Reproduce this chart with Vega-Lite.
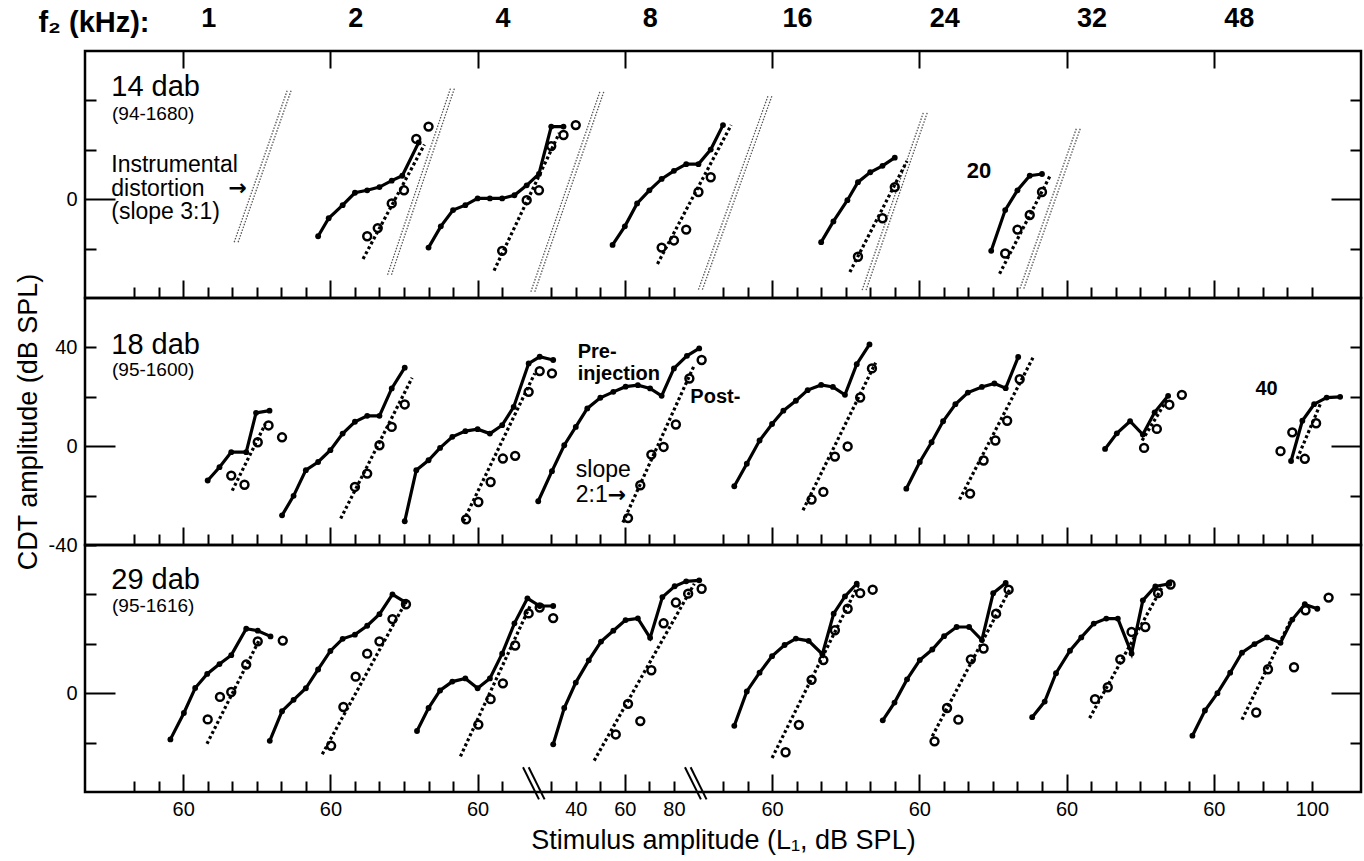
{
  "$schema": "https://vega.github.io/schema/vega-lite/v6.json",
  "background": "white",
  "padding": {"left": 12, "top": 2, "right": 4, "bottom": 4},
  "config": {
    "font": "Liberation Sans",
    "view": {"stroke": "black", "strokeWidth": 2.5},
    "axis": {"domain": false, "grid": false, "tickColor": "black", "tickWidth": 2, "labelColor": "black", "labelFont": "Liberation Sans", "labelFontSize": 20, "labelOverlap": false, "labelFlush": false, "titleFont": "Liberation Sans", "titleFontWeight": "normal", "titleColor": "black", "titleFontSize": 27}
  },
  "datasets": {
    "instr": [
      {"g": "1a", "x": 60.8, "y": -17.4}, {"g": "1a", "x": 82.4, "y": 44},
      {"g": "1b", "x": 62.4, "y": -17.4}, {"g": "1b", "x": 84.0, "y": 44},
      {"g": "2a", "x": 123.3, "y": -30.6}, {"g": "2a", "x": 149.0, "y": 45},
      {"g": "2b", "x": 124.9, "y": -30.6}, {"g": "2b", "x": 150.6, "y": 45},
      {"g": "4a", "x": 181.7, "y": -37.5}, {"g": "4a", "x": 210.0, "y": 44},
      {"g": "4b", "x": 183.3, "y": -37.5}, {"g": "4b", "x": 211.6, "y": 44},
      {"g": "8a", "x": 250.0, "y": -36.6}, {"g": "8a", "x": 278.3, "y": 41.7},
      {"g": "8b", "x": 251.6, "y": -36.6}, {"g": "8b", "x": 279.9, "y": 41.7},
      {"g": "16a", "x": 316.7, "y": -36.8}, {"g": "16a", "x": 341.7, "y": 35.2},
      {"g": "16b", "x": 318.3, "y": -36.8}, {"g": "16b", "x": 343.3, "y": 35.2},
      {"g": "24a", "x": 381.0, "y": -36.2}, {"g": "24a", "x": 404.0, "y": 28.6},
      {"g": "24b", "x": 382.6, "y": -36.2}, {"g": "24b", "x": 405.6, "y": 28.6}
    ],
    "pre": [
      {"p": 1, "g": "2", "x": 95, "y": -15}, {"p": 1, "g": "2", "x": 99.3, "y": -7.7}, {"p": 1, "g": "2", "x": 105, "y": -2.4}, {"p": 1, "g": "2", "x": 110, "y": 2.6}, {"p": 1, "g": "2", "x": 115, "y": 3.6}, {"p": 1, "g": "2", "x": 120, "y": 4.9}, {"p": 1, "g": "2", "x": 125, "y": 7.5}, {"p": 1, "g": "2", "x": 129.3, "y": 9.5}, {"p": 1, "g": "2", "x": 136, "y": 23},
      {"p": 1, "g": "4", "x": 140, "y": -19.6}, {"p": 1, "g": "4", "x": 145, "y": -11}, {"p": 1, "g": "4", "x": 150, "y": -4.4}, {"p": 1, "g": "4", "x": 155, "y": -2.4}, {"p": 1, "g": "4", "x": 160, "y": 0.3}, {"p": 1, "g": "4", "x": 165, "y": 0.3}, {"p": 1, "g": "4", "x": 170, "y": 0.3}, {"p": 1, "g": "4", "x": 175, "y": 1.6}, {"p": 1, "g": "4", "x": 180, "y": 5.6}, {"p": 1, "g": "4", "x": 185, "y": 10.2}, {"p": 1, "g": "4", "x": 190, "y": 29.4}, {"p": 1, "g": "4", "x": 195, "y": 29.4},
      {"p": 1, "g": "8", "x": 215, "y": -18.5}, {"p": 1, "g": "8", "x": 220, "y": -11}, {"p": 1, "g": "8", "x": 225, "y": -1.7}, {"p": 1, "g": "8", "x": 230, "y": 3.6}, {"p": 1, "g": "8", "x": 235, "y": 8.2}, {"p": 1, "g": "8", "x": 240, "y": 11.5}, {"p": 1, "g": "8", "x": 245, "y": 14.2}, {"p": 1, "g": "8", "x": 250, "y": 14.2}, {"p": 1, "g": "8", "x": 255, "y": 20.1}, {"p": 1, "g": "8", "x": 260, "y": 30},
      {"p": 1, "g": "16", "x": 300, "y": -17.4}, {"p": 1, "g": "16", "x": 305, "y": -9}, {"p": 1, "g": "16", "x": 310.7, "y": -0.4}, {"p": 1, "g": "16", "x": 315, "y": 6.9}, {"p": 1, "g": "16", "x": 320, "y": 10.9}, {"p": 1, "g": "16", "x": 325, "y": 13.5}, {"p": 1, "g": "16", "x": 330, "y": 16.8},
      {"p": 1, "g": "24", "x": 369.3, "y": -20.9}, {"p": 1, "g": "24", "x": 375, "y": -4.4}, {"p": 1, "g": "24", "x": 380, "y": 3.6}, {"p": 1, "g": "24", "x": 385, "y": 9.5}, {"p": 1, "g": "24", "x": 390, "y": 10.2},

      {"p": 2, "g": "1", "x": 50, "y": -13.9}, {"p": 2, "g": "1", "x": 54.8, "y": -8.5}, {"p": 2, "g": "1", "x": 59.6, "y": -2.4}, {"p": 2, "g": "1", "x": 65.7, "y": -2.4}, {"p": 2, "g": "1", "x": 69.7, "y": 13.5}, {"p": 2, "g": "1", "x": 75.2, "y": 14.4},
      {"p": 2, "g": "2", "x": 80.3, "y": -28}, {"p": 2, "g": "2", "x": 85, "y": -20.1}, {"p": 2, "g": "2", "x": 90, "y": -9.7}, {"p": 2, "g": "2", "x": 95, "y": -6.4}, {"p": 2, "g": "2", "x": 100, "y": -1.6}, {"p": 2, "g": "2", "x": 105, "y": 5.1}, {"p": 2, "g": "2", "x": 110, "y": 9.9}, {"p": 2, "g": "2", "x": 115, "y": 12.3}, {"p": 2, "g": "2", "x": 120, "y": 12.3}, {"p": 2, "g": "2", "x": 125, "y": 23.4}, {"p": 2, "g": "2", "x": 130.3, "y": 31.8},
      {"p": 2, "g": "4", "x": 130.3, "y": -30.4}, {"p": 2, "g": "4", "x": 135, "y": -9.7}, {"p": 2, "g": "4", "x": 140, "y": -5.7}, {"p": 2, "g": "4", "x": 144.7, "y": -0.7}, {"p": 2, "g": "4", "x": 149.7, "y": 3.8}, {"p": 2, "g": "4", "x": 155, "y": 6.1}, {"p": 2, "g": "4", "x": 160, "y": 6.9}, {"p": 2, "g": "4", "x": 165, "y": 5.1}, {"p": 2, "g": "4", "x": 170, "y": 8.5}, {"p": 2, "g": "4", "x": 174.7, "y": 15.9}, {"p": 2, "g": "4", "x": 180.8, "y": 33.5}, {"p": 2, "g": "4", "x": 185.3, "y": 36.2}, {"p": 2, "g": "4", "x": 190.8, "y": 34.9},
      {"p": 2, "g": "8", "x": 184.7, "y": -22.3}, {"p": 2, "g": "8", "x": 190.3, "y": -10.1}, {"p": 2, "g": "8", "x": 195.3, "y": 0.4}, {"p": 2, "g": "8", "x": 200, "y": 7.8}, {"p": 2, "g": "8", "x": 204.7, "y": 15.3}, {"p": 2, "g": "8", "x": 210, "y": 19.6}, {"p": 2, "g": "8", "x": 215.3, "y": 22}, {"p": 2, "g": "8", "x": 220.3, "y": 24.1}, {"p": 2, "g": "8", "x": 225.3, "y": 24.7}, {"p": 2, "g": "8", "x": 230.3, "y": 23.4}, {"p": 2, "g": "8", "x": 235, "y": 20.4}, {"p": 2, "g": "8", "x": 240, "y": 31.5}, {"p": 2, "g": "8", "x": 245.3, "y": 36.6}, {"p": 2, "g": "8", "x": 250.3, "y": 39.6},
      {"p": 2, "g": "16", "x": 264.6, "y": -16.2}, {"p": 2, "g": "16", "x": 269.7, "y": -7.1}, {"p": 2, "g": "16", "x": 274.9, "y": 2.3}, {"p": 2, "g": "16", "x": 280, "y": 9}, {"p": 2, "g": "16", "x": 284.6, "y": 14.4}, {"p": 2, "g": "16", "x": 289.7, "y": 18.4}, {"p": 2, "g": "16", "x": 294.5, "y": 22.7}, {"p": 2, "g": "16", "x": 300, "y": 24.8}, {"p": 2, "g": "16", "x": 304.8, "y": 24}, {"p": 2, "g": "16", "x": 309.7, "y": 20.8}, {"p": 2, "g": "16", "x": 314.5, "y": 33.2}, {"p": 2, "g": "16", "x": 319.7, "y": 41.2},
      {"p": 2, "g": "24", "x": 334.7, "y": -17.2}, {"p": 2, "g": "24", "x": 340.2, "y": -6.4}, {"p": 2, "g": "24", "x": 345, "y": 1.6}, {"p": 2, "g": "24", "x": 349.7, "y": 10.1}, {"p": 2, "g": "24", "x": 354.7, "y": 17}, {"p": 2, "g": "24", "x": 359.8, "y": 21.7}, {"p": 2, "g": "24", "x": 365.5, "y": 24}, {"p": 2, "g": "24", "x": 370.6, "y": 25.4}, {"p": 2, "g": "24", "x": 375.2, "y": 23.5}, {"p": 2, "g": "24", "x": 380.3, "y": 36.1},
      {"p": 2, "g": "32", "x": 415.7, "y": -1.1}, {"p": 2, "g": "32", "x": 420.5, "y": 5.2}, {"p": 2, "g": "32", "x": 425.9, "y": 10.1}, {"p": 2, "g": "32", "x": 431.1, "y": 4.7}, {"p": 2, "g": "32", "x": 435.9, "y": 13.7}, {"p": 2, "g": "32", "x": 441.4, "y": 20.4},
      {"p": 2, "g": "48", "x": 491.5, "y": -6}, {"p": 2, "g": "48", "x": 496.1, "y": 10.3}, {"p": 2, "g": "48", "x": 500.9, "y": 17}, {"p": 2, "g": "48", "x": 506, "y": 19.7}, {"p": 2, "g": "48", "x": 511.5, "y": 20},

      {"p": 3, "g": "1", "x": 34.8, "y": -18.7}, {"p": 3, "g": "1", "x": 40.3, "y": -8}, {"p": 3, "g": "1", "x": 44.9, "y": 2.1}, {"p": 3, "g": "1", "x": 49.8, "y": 7.8}, {"p": 3, "g": "1", "x": 54.8, "y": 11.8}, {"p": 3, "g": "1", "x": 59.6, "y": 15.4}, {"p": 3, "g": "1", "x": 65.7, "y": 26.1}, {"p": 3, "g": "1", "x": 70.4, "y": 25.3}, {"p": 3, "g": "1", "x": 75.6, "y": 23},
      {"p": 3, "g": "2", "x": 75.3, "y": -19.3}, {"p": 3, "g": "2", "x": 80.3, "y": -7.3}, {"p": 3, "g": "2", "x": 85, "y": -2.7}, {"p": 3, "g": "2", "x": 90, "y": 2}, {"p": 3, "g": "2", "x": 95, "y": 9.6}, {"p": 3, "g": "2", "x": 100, "y": 17.1}, {"p": 3, "g": "2", "x": 105, "y": 22}, {"p": 3, "g": "2", "x": 110, "y": 23.7}, {"p": 3, "g": "2", "x": 115, "y": 27.3}, {"p": 3, "g": "2", "x": 120, "y": 32}, {"p": 3, "g": "2", "x": 125.3, "y": 40}, {"p": 3, "g": "2", "x": 130.3, "y": 37},
      {"p": 3, "g": "4", "x": 135.3, "y": -15.3}, {"p": 3, "g": "4", "x": 140, "y": -6}, {"p": 3, "g": "4", "x": 144.7, "y": 1.1}, {"p": 3, "g": "4", "x": 149.7, "y": 4.7}, {"p": 3, "g": "4", "x": 155, "y": 6}, {"p": 3, "g": "4", "x": 160, "y": 2}, {"p": 3, "g": "4", "x": 165, "y": 6}, {"p": 3, "g": "4", "x": 170, "y": 16}, {"p": 3, "g": "4", "x": 175, "y": 28.3}, {"p": 3, "g": "4", "x": 180.3, "y": 38.4}, {"p": 3, "g": "4", "x": 185.3, "y": 35.3}, {"p": 3, "g": "4", "x": 190.8, "y": 35.3},
      {"p": 3, "g": "8", "x": 190.8, "y": -20.7}, {"p": 3, "g": "8", "x": 195.3, "y": -6}, {"p": 3, "g": "8", "x": 200, "y": 4.3}, {"p": 3, "g": "8", "x": 205.3, "y": 13.3}, {"p": 3, "g": "8", "x": 210.3, "y": 20.9}, {"p": 3, "g": "8", "x": 215.3, "y": 25.3}, {"p": 3, "g": "8", "x": 220.3, "y": 29.6}, {"p": 3, "g": "8", "x": 225.3, "y": 30.3}, {"p": 3, "g": "8", "x": 230.3, "y": 22.4}, {"p": 3, "g": "8", "x": 235.3, "y": 38.9}, {"p": 3, "g": "8", "x": 240.3, "y": 43.3}, {"p": 3, "g": "8", "x": 245, "y": 45.3}, {"p": 3, "g": "8", "x": 250.3, "y": 45.7},
      {"p": 3, "g": "16", "x": 264.6, "y": -13.2}, {"p": 3, "g": "16", "x": 269.7, "y": 0.7}, {"p": 3, "g": "16", "x": 274.9, "y": 8.3}, {"p": 3, "g": "16", "x": 280, "y": 15}, {"p": 3, "g": "16", "x": 285.1, "y": 19.5}, {"p": 3, "g": "16", "x": 289.7, "y": 22.1}, {"p": 3, "g": "16", "x": 294.9, "y": 21.2}, {"p": 3, "g": "16", "x": 300.5, "y": 15.8}, {"p": 3, "g": "16", "x": 305.1, "y": 32.2}, {"p": 3, "g": "16", "x": 309.7, "y": 39.2}, {"p": 3, "g": "16", "x": 314.5, "y": 44.3},
      {"p": 3, "g": "24", "x": 325.1, "y": -11}, {"p": 3, "g": "24", "x": 329.9, "y": -3.8}, {"p": 3, "g": "24", "x": 335, "y": 5.6}, {"p": 3, "g": "24", "x": 340.2, "y": 13.4}, {"p": 3, "g": "24", "x": 345.3, "y": 17.7}, {"p": 3, "g": "24", "x": 350.1, "y": 23.1}, {"p": 3, "g": "24", "x": 355.2, "y": 26.8}, {"p": 3, "g": "24", "x": 360.3, "y": 26.8}, {"p": 3, "g": "24", "x": 365.5, "y": 21.5}, {"p": 3, "g": "24", "x": 370.1, "y": 40.5}, {"p": 3, "g": "24", "x": 375.2, "y": 44.6},
      {"p": 3, "g": "32", "x": 386, "y": -9.7}, {"p": 3, "g": "32", "x": 391.1, "y": -3.4}, {"p": 3, "g": "32", "x": 395.7, "y": 8.1}, {"p": 3, "g": "32", "x": 401.4, "y": 17.2}, {"p": 3, "g": "32", "x": 406, "y": 22.6}, {"p": 3, "g": "32", "x": 411.1, "y": 28.2}, {"p": 3, "g": "32", "x": 416.2, "y": 30.2}, {"p": 3, "g": "32", "x": 420.9, "y": 30.2}, {"p": 3, "g": "32", "x": 426.5, "y": 16.1}, {"p": 3, "g": "32", "x": 431.1, "y": 37.6}, {"p": 3, "g": "32", "x": 436.2, "y": 43.2}, {"p": 3, "g": "32", "x": 441.9, "y": 44.3},
      {"p": 3, "g": "48", "x": 451.3, "y": -17.2}, {"p": 3, "g": "48", "x": 456.4, "y": -7}, {"p": 3, "g": "48", "x": 461.5, "y": 0}, {"p": 3, "g": "48", "x": 466.7, "y": 8.3}, {"p": 3, "g": "48", "x": 471.5, "y": 16.4}, {"p": 3, "g": "48", "x": 476.6, "y": 19.9}, {"p": 3, "g": "48", "x": 481.7, "y": 22.6}, {"p": 3, "g": "48", "x": 487.2, "y": 20.4}, {"p": 3, "g": "48", "x": 492, "y": 29.8}, {"p": 3, "g": "48", "x": 497.1, "y": 36}, {"p": 3, "g": "48", "x": 502.2, "y": 34.2}
    ],
    "post": [
      {"p": 1, "g": "2", "x": 115, "y": -15}, {"p": 1, "g": "2", "x": 119.3, "y": -11.7}, {"p": 1, "g": "2", "x": 125, "y": -1.7}, {"p": 1, "g": "2", "x": 130, "y": 3.6}, {"p": 1, "g": "2", "x": 135, "y": 24.4}, {"p": 1, "g": "2", "x": 140, "y": 29.4},
      {"p": 1, "g": "4", "x": 170, "y": -20.9}, {"p": 1, "g": "4", "x": 180, "y": -0.4}, {"p": 1, "g": "4", "x": 185, "y": 3.6}, {"p": 1, "g": "4", "x": 190, "y": 21.5}, {"p": 1, "g": "4", "x": 195, "y": 26}, {"p": 1, "g": "4", "x": 200, "y": 30},
      {"p": 1, "g": "8", "x": 235, "y": -19.6}, {"p": 1, "g": "8", "x": 240, "y": -16.7}, {"p": 1, "g": "8", "x": 245, "y": -12.3}, {"p": 1, "g": "8", "x": 250, "y": 2.9}, {"p": 1, "g": "8", "x": 255, "y": 8.9},
      {"p": 1, "g": "16", "x": 315, "y": -23.3}, {"p": 1, "g": "16", "x": 325, "y": -7.7}, {"p": 1, "g": "16", "x": 330, "y": 4.9},
      {"p": 1, "g": "24", "x": 375, "y": -22}, {"p": 1, "g": "24", "x": 380, "y": -12.3}, {"p": 1, "g": "24", "x": 385, "y": -6.4}, {"p": 1, "g": "24", "x": 390, "y": 2.9},

      {"p": 2, "g": "1", "x": 59.6, "y": -11.9}, {"p": 2, "g": "1", "x": 65, "y": -15.6}, {"p": 2, "g": "1", "x": 70.4, "y": 1.6}, {"p": 2, "g": "1", "x": 74.8, "y": 8.4}, {"p": 2, "g": "1", "x": 80.3, "y": 3.6},
      {"p": 2, "g": "2", "x": 110, "y": -16.5}, {"p": 2, "g": "2", "x": 115, "y": -11.1}, {"p": 2, "g": "2", "x": 120, "y": 0.4}, {"p": 2, "g": "2", "x": 125, "y": 7.8}, {"p": 2, "g": "2", "x": 130.3, "y": 16.9},
      {"p": 2, "g": "4", "x": 155.3, "y": -29.6}, {"p": 2, "g": "4", "x": 160.3, "y": -22.6}, {"p": 2, "g": "4", "x": 165.3, "y": -14.5}, {"p": 2, "g": "4", "x": 170.3, "y": -5}, {"p": 2, "g": "4", "x": 175.3, "y": -3.9}, {"p": 2, "g": "4", "x": 180.8, "y": 22}, {"p": 2, "g": "4", "x": 185.3, "y": 30.4}, {"p": 2, "g": "4", "x": 190.3, "y": 29.5},
      {"p": 2, "g": "8", "x": 221.3, "y": -29.1}, {"p": 2, "g": "8", "x": 226.3, "y": -15.8}, {"p": 2, "g": "8", "x": 230.8, "y": -3.4}, {"p": 2, "g": "8", "x": 235.8, "y": -0.3}, {"p": 2, "g": "8", "x": 240.8, "y": 8.8}, {"p": 2, "g": "8", "x": 246.3, "y": 27.4}, {"p": 2, "g": "8", "x": 251.3, "y": 34.9},
      {"p": 2, "g": "16", "x": 296.1, "y": -21.6}, {"p": 2, "g": "16", "x": 300.9, "y": -18.5}, {"p": 2, "g": "16", "x": 305.6, "y": -4.2}, {"p": 2, "g": "16", "x": 310.8, "y": -0.1}, {"p": 2, "g": "16", "x": 315.9, "y": 19.7}, {"p": 2, "g": "16", "x": 320.7, "y": 31.5},
      {"p": 2, "g": "24", "x": 360.7, "y": -19.2}, {"p": 2, "g": "24", "x": 366.2, "y": -5.8}, {"p": 2, "g": "24", "x": 371, "y": 2.3}, {"p": 2, "g": "24", "x": 375.8, "y": 10.3}, {"p": 2, "g": "24", "x": 380.9, "y": 27.1},
      {"p": 2, "g": "32", "x": 431.6, "y": -0.7}, {"p": 2, "g": "32", "x": 436.8, "y": 7}, {"p": 2, "g": "32", "x": 441.9, "y": 16.8}, {"p": 2, "g": "32", "x": 447, "y": 20.8},
      {"p": 2, "g": "48", "x": 487.2, "y": -2}, {"p": 2, "g": "48", "x": 492, "y": 5.6}, {"p": 2, "g": "48", "x": 497.1, "y": -5.1}, {"p": 2, "g": "48", "x": 501.7, "y": 9.3},

      {"p": 3, "g": "1", "x": 50, "y": -10.6}, {"p": 3, "g": "1", "x": 55, "y": -1.5}, {"p": 3, "g": "1", "x": 59.6, "y": 0.5}, {"p": 3, "g": "1", "x": 65.7, "y": 11.6}, {"p": 3, "g": "1", "x": 70.4, "y": 21}, {"p": 3, "g": "1", "x": 80.6, "y": 21.3},
      {"p": 3, "g": "2", "x": 100.3, "y": -21.3}, {"p": 3, "g": "2", "x": 105.3, "y": -5.6}, {"p": 3, "g": "2", "x": 110.3, "y": 6.7}, {"p": 3, "g": "2", "x": 115, "y": 16}, {"p": 3, "g": "2", "x": 120, "y": 21}, {"p": 3, "g": "2", "x": 125.3, "y": 30}, {"p": 3, "g": "2", "x": 130.8, "y": 36},
      {"p": 3, "g": "4", "x": 160.3, "y": -12.7}, {"p": 3, "g": "4", "x": 165.3, "y": -2.4}, {"p": 3, "g": "4", "x": 170.3, "y": 4}, {"p": 3, "g": "4", "x": 175.3, "y": 19.3}, {"p": 3, "g": "4", "x": 180.8, "y": 32.3}, {"p": 3, "g": "4", "x": 185.3, "y": 34.7}, {"p": 3, "g": "4", "x": 190.8, "y": 30.4},
      {"p": 3, "g": "8", "x": 216.3, "y": -16.7}, {"p": 3, "g": "8", "x": 221.3, "y": -4.3}, {"p": 3, "g": "8", "x": 226.3, "y": -11.3}, {"p": 3, "g": "8", "x": 230.8, "y": 9.3}, {"p": 3, "g": "8", "x": 235.8, "y": 28.3}, {"p": 3, "g": "8", "x": 240.8, "y": 36.7}, {"p": 3, "g": "8", "x": 245.8, "y": 40.3}, {"p": 3, "g": "8", "x": 251.3, "y": 42.3},
      {"p": 3, "g": "16", "x": 285.5, "y": -23.9}, {"p": 3, "g": "16", "x": 290.9, "y": -12.8}, {"p": 3, "g": "16", "x": 296.1, "y": 5.4}, {"p": 3, "g": "16", "x": 300.9, "y": 13.4}, {"p": 3, "g": "16", "x": 305.6, "y": 25.5}, {"p": 3, "g": "16", "x": 310.8, "y": 34.2}, {"p": 3, "g": "16", "x": 315.9, "y": 40.5}, {"p": 3, "g": "16", "x": 321, "y": 41.9},
      {"p": 3, "g": "24", "x": 346.2, "y": -19.5}, {"p": 3, "g": "24", "x": 351.3, "y": -6}, {"p": 3, "g": "24", "x": 355.9, "y": -10.7}, {"p": 3, "g": "24", "x": 361, "y": 13.7}, {"p": 3, "g": "24", "x": 366.2, "y": 18.1}, {"p": 3, "g": "24", "x": 371.3, "y": 32.2}, {"p": 3, "g": "24", "x": 376.4, "y": 41.9},
      {"p": 3, "g": "32", "x": 411.6, "y": -2.4}, {"p": 3, "g": "32", "x": 416.8, "y": 2.4}, {"p": 3, "g": "32", "x": 421.9, "y": 13.7}, {"p": 3, "g": "32", "x": 426.5, "y": 24.8}, {"p": 3, "g": "32", "x": 432.1, "y": 26.8}, {"p": 3, "g": "32", "x": 437.3, "y": 40.5}, {"p": 3, "g": "32", "x": 442.4, "y": 44},
      {"p": 3, "g": "48", "x": 477.3, "y": -7.8}, {"p": 3, "g": "48", "x": 482.1, "y": 9.7}, {"p": 3, "g": "48", "x": 492.7, "y": 10.5}, {"p": 3, "g": "48", "x": 497.4, "y": 33.6}, {"p": 3, "g": "48", "x": 506.8, "y": 38.7}
    ],
    "fit": [
      {"p": 1, "g": "2", "x": 113.3, "y": -24.2}, {"p": 1, "g": "2", "x": 138.3, "y": 22.1},
      {"p": 1, "g": "4", "x": 166.7, "y": -28.9}, {"p": 1, "g": "4", "x": 193.3, "y": 26.8},
      {"p": 1, "g": "8", "x": 233.3, "y": -26.2}, {"p": 1, "g": "8", "x": 263.3, "y": 30},
      {"p": 1, "g": "16", "x": 311.7, "y": -29.5}, {"p": 1, "g": "16", "x": 335, "y": 15.5},
      {"p": 1, "g": "24", "x": 372.7, "y": -30.2}, {"p": 1, "g": "24", "x": 393.3, "y": 9.5},
      {"p": 2, "g": "1", "x": 60, "y": -18}, {"p": 2, "g": "1", "x": 73.5, "y": 9},
      {"p": 2, "g": "2", "x": 104.2, "y": -29.3}, {"p": 2, "g": "2", "x": 133.3, "y": 27.7},
      {"p": 2, "g": "4", "x": 154.2, "y": -30.4}, {"p": 2, "g": "4", "x": 183.3, "y": 29.5},
      {"p": 2, "g": "8", "x": 219.2, "y": -30.9}, {"p": 2, "g": "8", "x": 248.3, "y": 32.8},
      {"p": 2, "g": "16", "x": 292.6, "y": -25.9}, {"p": 2, "g": "16", "x": 322.2, "y": 33.8},
      {"p": 2, "g": "24", "x": 356.4, "y": -21.6}, {"p": 2, "g": "24", "x": 386.3, "y": 35.8},
      {"p": 2, "g": "32", "x": 430.8, "y": 2.3}, {"p": 2, "g": "32", "x": 441.9, "y": 20.4},
      {"p": 2, "g": "48", "x": 494, "y": -5.1}, {"p": 2, "g": "48", "x": 503.4, "y": 17},
      {"p": 3, "g": "1", "x": 49.7, "y": -20.5}, {"p": 3, "g": "1", "x": 71.1, "y": 21.7},
      {"p": 3, "g": "2", "x": 96.7, "y": -24.7}, {"p": 3, "g": "2", "x": 131.7, "y": 38.7},
      {"p": 3, "g": "4", "x": 153, "y": -25.6}, {"p": 3, "g": "4", "x": 181.7, "y": 36},
      {"p": 3, "g": "8", "x": 207.5, "y": -27.3}, {"p": 3, "g": "8", "x": 248.3, "y": 44.3},
      {"p": 3, "g": "16", "x": 280, "y": -26.2}, {"p": 3, "g": "16", "x": 315.4, "y": 44.3},
      {"p": 3, "g": "24", "x": 345.3, "y": -17.4}, {"p": 3, "g": "24", "x": 377.4, "y": 43},
      {"p": 3, "g": "32", "x": 409.4, "y": -10.1}, {"p": 3, "g": "32", "x": 439, "y": 43},
      {"p": 3, "g": "48", "x": 471.5, "y": -10.7}, {"p": 3, "g": "48", "x": 491.5, "y": 29.8}
    ],
    "brk": [
      {"x": 178.5, "y": -30, "xe": 185, "ye": -43},
      {"x": 180.8, "y": -30, "xe": 187.3, "ye": -43},
      {"x": 244.5, "y": -30, "xe": 251, "ye": -43},
      {"x": 246.8, "y": -30, "xe": 253.3, "ye": -43}
    ],
    "txt": [
      {"p": 1, "role": "head", "x": -19, "y": 71.5, "t": "f₂ (kHz):"},
      {"p": 1, "role": "title", "x": 10.7, "y": 45.3, "t": "14 dab"},
      {"p": 1, "role": "id", "x": 11, "y": 34.5, "t": "(94-1680)"},
      {"p": 1, "role": "note", "x": 10.7, "y": 13.7, "t": "Instrumental"},
      {"p": 1, "role": "note", "x": 10.7, "y": 4.2, "t": "distortion"},
      {"p": 1, "role": "note", "x": 10.7, "y": -5.3, "t": "(slope 3:1)"},
      {"p": 1, "role": "arrow", "x": 58.5, "y": 4.4, "t": "→"},
      {"p": 1, "role": "bold", "x": 359.3, "y": 11.5, "t": "20"},
      {"p": 2, "role": "title", "x": 10.7, "y": 41, "t": "18 dab"},
      {"p": 2, "role": "id", "x": 11, "y": 30.8, "t": "(95-1600)"},
      {"p": 2, "role": "bold", "x": 200.8, "y": 38.2, "t": "Pre-"},
      {"p": 2, "role": "bold", "x": 200.8, "y": 29.2, "t": "injection"},
      {"p": 2, "role": "bold", "x": 246.7, "y": 20, "t": "Post-"},
      {"p": 2, "role": "note", "x": 200, "y": -9.6, "t": "slope"},
      {"p": 2, "role": "note", "x": 200, "y": -19.9, "t": "2:1"},
      {"p": 2, "role": "arrow", "x": 213, "y": -19.6, "t": "→"},
      {"p": 2, "role": "bold", "x": 477, "y": 23.1, "t": "40"},
      {"p": 3, "role": "title", "x": 10.7, "y": 46, "t": "29 dab"},
      {"p": 3, "role": "id", "x": 11, "y": 35.3, "t": "(95-1616)"}
    ]
  },
  "vconcat": [
    {
      "width": 1276, "height": 247,
      "resolve": {"axis": {"x": "independent", "y": "independent"}},
      "layer": [
        {
          "data": {"name": "instr"},
          "mark": {"type": "line", "color": "#555555", "strokeWidth": 1.3, "strokeDash": [1.5, 1.5]},
          "encoding": {
            "x": {"field": "x", "type": "quantitative", "scale": {"domain": [0, 520], "nice": false, "zero": false},
              "axis": {"orient": "bottom", "title": null, "labels": false, "values": [20,30,40,50,60,70,80,90,100,110,120,130,140,150,160,170,190,200,210,220,230,240,260,270,280,290,300,310,320,330,340,350,360,370,380,390,400,410,420,430,440,450,460,470,480,490,500],
                "tickSize": {"condition": {"test": "indexof([40,100,160,220,280,340,400,460], datum.value) >= 0", "value": -18}, "value": -11}}},
            "y": {"field": "y", "type": "quantitative", "scale": {"domain": [-40, 60], "nice": false, "zero": false},
              "axis": {"orient": "left", "title": null, "values": [-20, 0, 20, 40], "labelExpr": "datum.value === 0 ? '0' : ''",
                "tickSize": {"condition": {"test": "datum.value === 0", "value": -30}, "value": -11},
                "labelPadding": {"condition": {"test": "datum.value === 0", "value": 38}, "value": 19}}},
            "detail": {"field": "g"}
          }
        },
        {
          "data": {"name": "fit"},
          "transform": [{"filter": "datum.p === 1"}],
          "mark": {"type": "line", "color": "black", "strokeWidth": 3.2, "strokeDash": [3, 2.6]},
          "encoding": {
            "x": {"field": "x", "type": "quantitative", "scale": {"domain": [0, 520], "nice": false, "zero": false},
              "axis": {"orient": "top", "title": null, "values": [40, 100, 160, 220, 280, 340, 400, 460], "tickSize": -17, "labelPadding": 36, "labelOffset": 25, "labelFontSize": 27, "labelFontWeight": "bold",
                "labelExpr": "datum.value === 40 ? '1' : datum.value === 100 ? '2' : datum.value === 160 ? '4' : datum.value === 220 ? '8' : datum.value === 280 ? '16' : datum.value === 340 ? '24' : datum.value === 400 ? '32' : '48'"}},
            "y": {"field": "y", "type": "quantitative", "scale": {"domain": [-40, 60], "nice": false, "zero": false},
              "axis": {"orient": "right", "title": null, "labels": false, "values": [-20, 0, 20, 40],
                "tickSize": {"condition": {"test": "datum.value === 0", "value": -30}, "value": -11}}},
            "detail": {"field": "g"}
          }
        },
        {
          "data": {"name": "pre"},
          "transform": [{"filter": "datum.p === 1"}],
          "mark": {"type": "line", "color": "black", "strokeWidth": 3.2, "point": {"filled": true, "color": "black", "size": 34}},
          "encoding": {
            "x": {"field": "x", "type": "quantitative", "scale": {"domain": [0, 520], "nice": false, "zero": false}, "axis": null},
            "y": {"field": "y", "type": "quantitative", "scale": {"domain": [-40, 60], "nice": false, "zero": false}, "axis": null},
            "detail": {"field": "g"}
          }
        },
        {
          "data": {"name": "post"},
          "transform": [{"filter": "datum.p === 1"}],
          "mark": {"type": "point", "shape": "circle", "filled": false, "color": "black", "strokeWidth": 2.5, "size": 62, "opacity": 1},
          "encoding": {
            "x": {"field": "x", "type": "quantitative", "scale": {"domain": [0, 520], "nice": false, "zero": false}, "axis": null},
            "y": {"field": "y", "type": "quantitative", "scale": {"domain": [-40, 60], "nice": false, "zero": false}, "axis": null}
          }
        },
        {
          "data": {"name": "txt"},
          "transform": [{"filter": "datum.p === 1 && datum.role === 'head'"}],
          "mark": {"type": "text", "align": "left", "baseline": "middle", "fontSize": 29, "fontWeight": "bold", "color": "black"},
          "encoding": {
            "x": {"field": "x", "type": "quantitative", "scale": {"domain": [0, 520], "nice": false, "zero": false}, "axis": null},
            "y": {"field": "y", "type": "quantitative", "scale": {"domain": [-40, 60], "nice": false, "zero": false}, "axis": null},
            "text": {"field": "t"}
          }
        },
        {
          "data": {"name": "txt"},
          "transform": [{"filter": "datum.p === 1 && datum.role === 'title'"}],
          "mark": {"type": "text", "align": "left", "baseline": "middle", "fontSize": 29, "color": "black"},
          "encoding": {
            "x": {"field": "x", "type": "quantitative", "scale": {"domain": [0, 520], "nice": false, "zero": false}, "axis": null},
            "y": {"field": "y", "type": "quantitative", "scale": {"domain": [-40, 60], "nice": false, "zero": false}, "axis": null},
            "text": {"field": "t"}
          }
        },
        {
          "data": {"name": "txt"},
          "transform": [{"filter": "datum.p === 1 && datum.role === 'id'"}],
          "mark": {"type": "text", "align": "left", "baseline": "middle", "fontSize": 19, "color": "black"},
          "encoding": {
            "x": {"field": "x", "type": "quantitative", "scale": {"domain": [0, 520], "nice": false, "zero": false}, "axis": null},
            "y": {"field": "y", "type": "quantitative", "scale": {"domain": [-40, 60], "nice": false, "zero": false}, "axis": null},
            "text": {"field": "t"}
          }
        },
        {
          "data": {"name": "txt"},
          "transform": [{"filter": "datum.p === 1 && datum.role === 'note'"}],
          "mark": {"type": "text", "align": "left", "baseline": "middle", "fontSize": 23, "color": "black"},
          "encoding": {
            "x": {"field": "x", "type": "quantitative", "scale": {"domain": [0, 520], "nice": false, "zero": false}, "axis": null},
            "y": {"field": "y", "type": "quantitative", "scale": {"domain": [-40, 60], "nice": false, "zero": false}, "axis": null},
            "text": {"field": "t"}
          }
        },
        {
          "data": {"name": "txt"},
          "transform": [{"filter": "datum.p === 1 && datum.role === 'arrow'"}],
          "mark": {"type": "text", "align": "left", "baseline": "middle", "fontSize": 22, "fontWeight": "bold", "font": "DejaVu Sans", "color": "black"},
          "encoding": {
            "x": {"field": "x", "type": "quantitative", "scale": {"domain": [0, 520], "nice": false, "zero": false}, "axis": null},
            "y": {"field": "y", "type": "quantitative", "scale": {"domain": [-40, 60], "nice": false, "zero": false}, "axis": null},
            "text": {"field": "t"}
          }
        },
        {
          "data": {"name": "txt"},
          "transform": [{"filter": "datum.p === 1 && datum.role === 'bold'"}],
          "mark": {"type": "text", "align": "left", "baseline": "middle", "fontSize": 22, "fontWeight": "bold", "color": "black"},
          "encoding": {
            "x": {"field": "x", "type": "quantitative", "scale": {"domain": [0, 520], "nice": false, "zero": false}, "axis": null},
            "y": {"field": "y", "type": "quantitative", "scale": {"domain": [-40, 60], "nice": false, "zero": false}, "axis": null},
            "text": {"field": "t"}
          }
        }
      ]
    },
    {
      "width": 1276, "height": 247,
      "resolve": {"axis": {"x": "independent", "y": "independent"}},
      "layer": [
        {
          "data": {"name": "fit"},
          "transform": [{"filter": "datum.p === 2"}],
          "mark": {"type": "line", "color": "black", "strokeWidth": 3.2, "strokeDash": [3, 2.6]},
          "encoding": {
            "x": {"field": "x", "type": "quantitative", "scale": {"domain": [0, 520], "nice": false, "zero": false},
              "axis": {"orient": "bottom", "title": null, "labels": false, "values": [20,30,40,50,60,70,80,90,100,110,120,130,140,150,160,170,190,200,210,220,230,240,260,270,280,290,300,310,320,330,340,350,360,370,380,390,400,410,420,430,440,450,460,470,480,490,500],
                "tickSize": {"condition": {"test": "indexof([40,100,160,220,280,340,400,460], datum.value) >= 0", "value": -18}, "value": -11}}},
            "y": {"field": "y", "type": "quantitative", "scale": {"domain": [-40, 60], "nice": false, "zero": false},
              "axis": {"orient": "left", "title": "CDT amplitude (dB SPL)", "titlePadding": 6, "values": [-40, -20, 0, 20, 40],
                "labelExpr": "datum.value === 0 ? '0' : datum.value === 40 ? '40' : datum.value === -40 ? '-40' : ''",
                "tickSize": {"condition": {"test": "datum.value === 0", "value": -30}, "value": -11},
                "labelPadding": {"condition": {"test": "datum.value === 0", "value": 38}, "value": 19}}},
            "detail": {"field": "g"}
          }
        },
        {
          "data": {"name": "pre"},
          "transform": [{"filter": "datum.p === 2"}],
          "mark": {"type": "line", "color": "black", "strokeWidth": 3.2, "point": {"filled": true, "color": "black", "size": 34}},
          "encoding": {
            "x": {"field": "x", "type": "quantitative", "scale": {"domain": [0, 520], "nice": false, "zero": false}, "axis": null},
            "y": {"field": "y", "type": "quantitative", "scale": {"domain": [-40, 60], "nice": false, "zero": false},
              "axis": {"orient": "right", "title": null, "labels": false, "values": [-20, 0, 20, 40],
                "tickSize": {"condition": {"test": "datum.value === 0", "value": -30}, "value": -11}}},
            "detail": {"field": "g"}
          }
        },
        {
          "data": {"name": "post"},
          "transform": [{"filter": "datum.p === 2"}],
          "mark": {"type": "point", "shape": "circle", "filled": false, "color": "black", "strokeWidth": 2.5, "size": 62, "opacity": 1},
          "encoding": {
            "x": {"field": "x", "type": "quantitative", "scale": {"domain": [0, 520], "nice": false, "zero": false}, "axis": null},
            "y": {"field": "y", "type": "quantitative", "scale": {"domain": [-40, 60], "nice": false, "zero": false}, "axis": null}
          }
        },
        {
          "data": {"name": "txt"},
          "transform": [{"filter": "datum.p === 2 && datum.role === 'title'"}],
          "mark": {"type": "text", "align": "left", "baseline": "middle", "fontSize": 29, "color": "black"},
          "encoding": {
            "x": {"field": "x", "type": "quantitative", "scale": {"domain": [0, 520], "nice": false, "zero": false}, "axis": null},
            "y": {"field": "y", "type": "quantitative", "scale": {"domain": [-40, 60], "nice": false, "zero": false}, "axis": null},
            "text": {"field": "t"}
          }
        },
        {
          "data": {"name": "txt"},
          "transform": [{"filter": "datum.p === 2 && datum.role === 'id'"}],
          "mark": {"type": "text", "align": "left", "baseline": "middle", "fontSize": 19, "color": "black"},
          "encoding": {
            "x": {"field": "x", "type": "quantitative", "scale": {"domain": [0, 520], "nice": false, "zero": false}, "axis": null},
            "y": {"field": "y", "type": "quantitative", "scale": {"domain": [-40, 60], "nice": false, "zero": false}, "axis": null},
            "text": {"field": "t"}
          }
        },
        {
          "data": {"name": "txt"},
          "transform": [{"filter": "datum.p === 2 && datum.role === 'note'"}],
          "mark": {"type": "text", "align": "left", "baseline": "middle", "fontSize": 23, "color": "black"},
          "encoding": {
            "x": {"field": "x", "type": "quantitative", "scale": {"domain": [0, 520], "nice": false, "zero": false}, "axis": null},
            "y": {"field": "y", "type": "quantitative", "scale": {"domain": [-40, 60], "nice": false, "zero": false}, "axis": null},
            "text": {"field": "t"}
          }
        },
        {
          "data": {"name": "txt"},
          "transform": [{"filter": "datum.p === 2 && datum.role === 'arrow'"}],
          "mark": {"type": "text", "align": "left", "baseline": "middle", "fontSize": 22, "fontWeight": "bold", "font": "DejaVu Sans", "color": "black"},
          "encoding": {
            "x": {"field": "x", "type": "quantitative", "scale": {"domain": [0, 520], "nice": false, "zero": false}, "axis": null},
            "y": {"field": "y", "type": "quantitative", "scale": {"domain": [-40, 60], "nice": false, "zero": false}, "axis": null},
            "text": {"field": "t"}
          }
        },
        {
          "data": {"name": "txt"},
          "transform": [{"filter": "datum.p === 2 && datum.role === 'bold'"}],
          "mark": {"type": "text", "align": "left", "baseline": "middle", "fontSize": 20, "fontWeight": "bold", "color": "black"},
          "encoding": {
            "x": {"field": "x", "type": "quantitative", "scale": {"domain": [0, 520], "nice": false, "zero": false}, "axis": null},
            "y": {"field": "y", "type": "quantitative", "scale": {"domain": [-40, 60], "nice": false, "zero": false}, "axis": null},
            "text": {"field": "t"}
          }
        }
      ]
    },
    {
      "width": 1276, "height": 247,
      "resolve": {"axis": {"x": "independent", "y": "independent"}},
      "layer": [
        {
          "data": {"name": "fit"},
          "transform": [{"filter": "datum.p === 3"}],
          "mark": {"type": "line", "color": "black", "strokeWidth": 3.2, "strokeDash": [3, 2.6]},
          "encoding": {
            "x": {"field": "x", "type": "quantitative", "scale": {"domain": [0, 520], "nice": false, "zero": false},
              "axis": {"orient": "bottom", "title": "Stimulus amplitude (L₁, dB SPL)", "titlePadding": 8, "values": [20,30,40,50,60,70,80,90,100,110,120,130,140,150,160,170,190,200,210,220,230,240,260,270,280,290,300,310,320,330,340,350,360,370,380,390,400,410,420,430,440,450,460,470,480,490,500],
                "labelExpr": "indexof([40,100,160,220,280,340,400,460], datum.value) >= 0 ? '60' : datum.value === 200 ? '40' : datum.value === 240 ? '80' : datum.value === 500 ? '100' : ''",
                "tickSize": {"condition": {"test": "indexof([40,100,160,220,280,340,400,460], datum.value) >= 0", "value": -18}, "value": -11},
                "labelPadding": {"condition": {"test": "indexof([40,100,160,220,280,340,400,460], datum.value) >= 0", "value": 25}, "value": 18}}},
            "y": {"field": "y", "type": "quantitative", "scale": {"domain": [-40, 60], "nice": false, "zero": false},
              "axis": {"orient": "left", "title": null, "values": [-20, 0, 20, 40], "labelExpr": "datum.value === 0 ? '0' : ''",
                "tickSize": {"condition": {"test": "datum.value === 0", "value": -30}, "value": -11},
                "labelPadding": {"condition": {"test": "datum.value === 0", "value": 38}, "value": 19}}},
            "detail": {"field": "g"}
          }
        },
        {
          "data": {"name": "pre"},
          "transform": [{"filter": "datum.p === 3"}],
          "mark": {"type": "line", "color": "black", "strokeWidth": 3.2, "point": {"filled": true, "color": "black", "size": 34}},
          "encoding": {
            "x": {"field": "x", "type": "quantitative", "scale": {"domain": [0, 520], "nice": false, "zero": false}, "axis": null},
            "y": {"field": "y", "type": "quantitative", "scale": {"domain": [-40, 60], "nice": false, "zero": false},
              "axis": {"orient": "right", "title": null, "labels": false, "values": [-20, 0, 20, 40],
                "tickSize": {"condition": {"test": "datum.value === 0", "value": -30}, "value": -11}}},
            "detail": {"field": "g"}
          }
        },
        {
          "data": {"name": "post"},
          "transform": [{"filter": "datum.p === 3"}],
          "mark": {"type": "point", "shape": "circle", "filled": false, "color": "black", "strokeWidth": 2.5, "size": 62, "opacity": 1},
          "encoding": {
            "x": {"field": "x", "type": "quantitative", "scale": {"domain": [0, 520], "nice": false, "zero": false}, "axis": null},
            "y": {"field": "y", "type": "quantitative", "scale": {"domain": [-40, 60], "nice": false, "zero": false}, "axis": null}
          }
        },
        {
          "data": {"name": "brk"},
          "mark": {"type": "rule", "color": "black", "strokeWidth": 2},
          "encoding": {
            "x": {"field": "x", "type": "quantitative", "scale": {"domain": [0, 520], "nice": false, "zero": false}, "axis": null},
            "y": {"field": "y", "type": "quantitative", "scale": {"domain": [-40, 60], "nice": false, "zero": false}, "axis": null},
            "x2": {"field": "xe"},
            "y2": {"field": "ye"}
          }
        },
        {
          "data": {"name": "txt"},
          "transform": [{"filter": "datum.p === 3 && datum.role === 'title'"}],
          "mark": {"type": "text", "align": "left", "baseline": "middle", "fontSize": 29, "color": "black"},
          "encoding": {
            "x": {"field": "x", "type": "quantitative", "scale": {"domain": [0, 520], "nice": false, "zero": false}, "axis": null},
            "y": {"field": "y", "type": "quantitative", "scale": {"domain": [-40, 60], "nice": false, "zero": false}, "axis": null},
            "text": {"field": "t"}
          }
        },
        {
          "data": {"name": "txt"},
          "transform": [{"filter": "datum.p === 3 && datum.role === 'id'"}],
          "mark": {"type": "text", "align": "left", "baseline": "middle", "fontSize": 19, "color": "black"},
          "encoding": {
            "x": {"field": "x", "type": "quantitative", "scale": {"domain": [0, 520], "nice": false, "zero": false}, "axis": null},
            "y": {"field": "y", "type": "quantitative", "scale": {"domain": [-40, 60], "nice": false, "zero": false}, "axis": null},
            "text": {"field": "t"}
          }
        }
      ]
    }
  ],
  "spacing": 0,
  "bounds": "flush"
}
